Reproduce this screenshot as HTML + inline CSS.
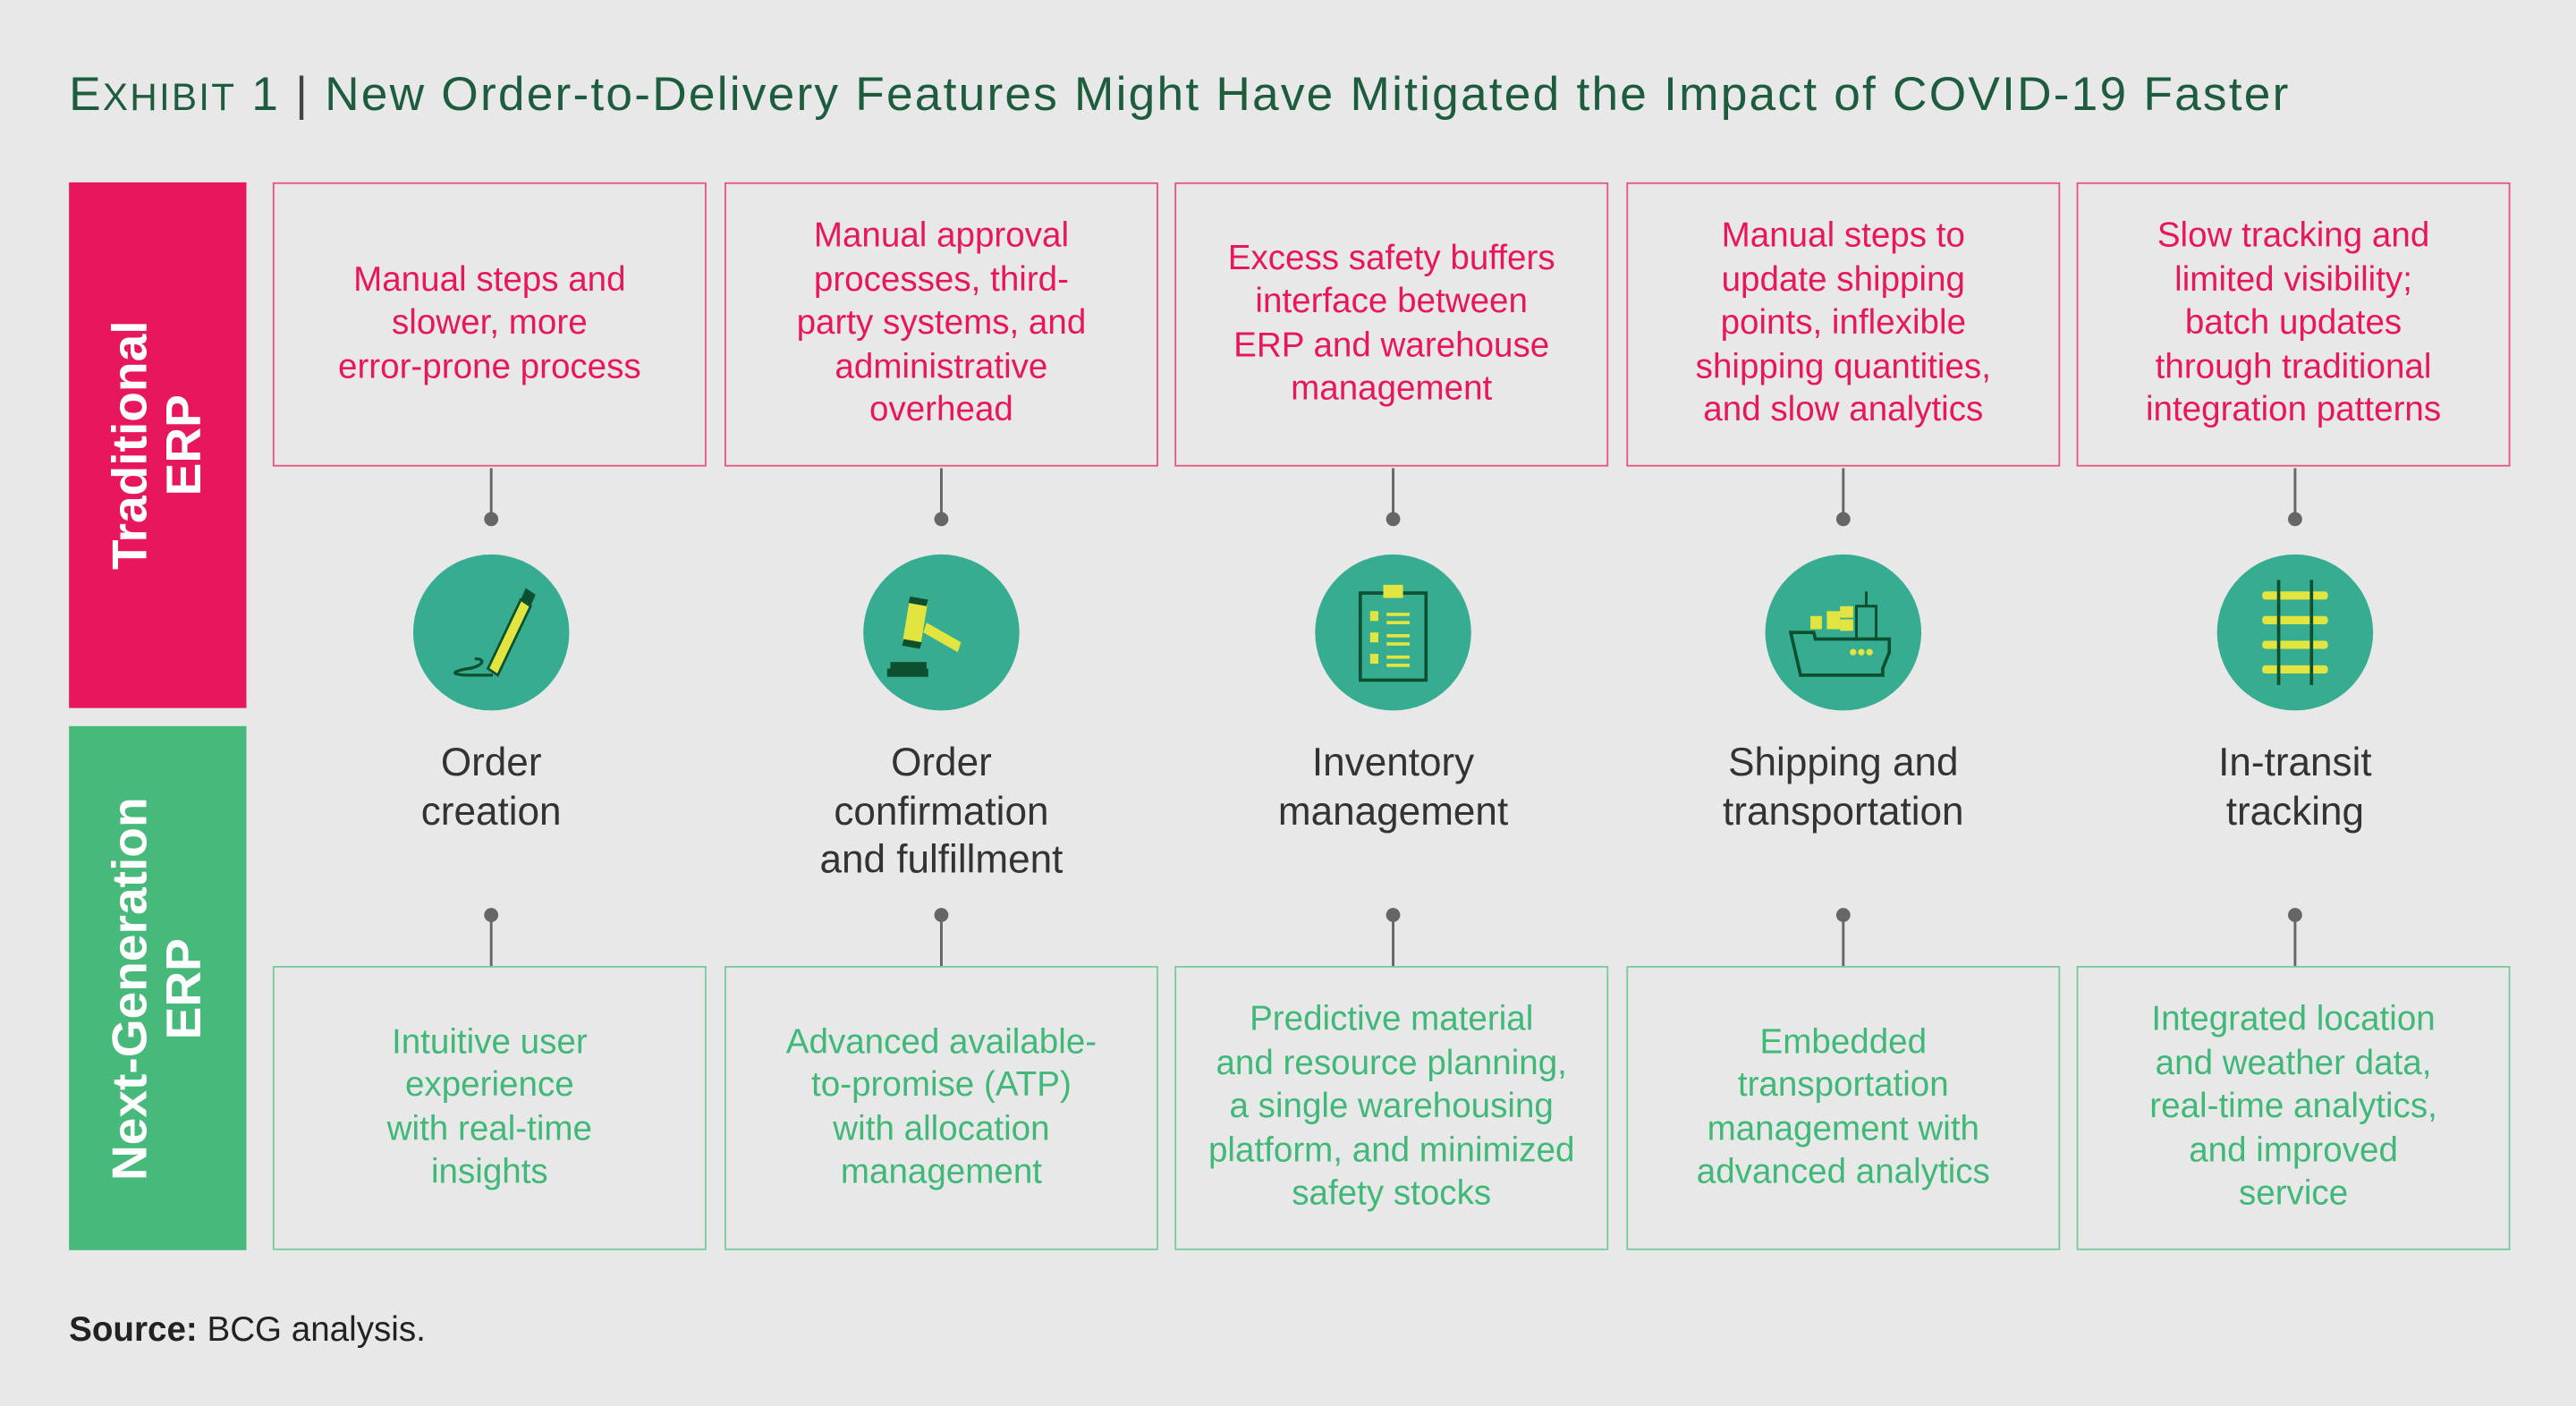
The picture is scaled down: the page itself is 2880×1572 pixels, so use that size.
<!DOCTYPE html>
<html><head><meta charset="utf-8"><style>
html,body{margin:0;padding:0;background:#e8e8e8;}
body{width:2880px;height:1572px;overflow:hidden;}
#w{width:1568px;height:856px;position:relative;transform:scale(1.83673);transform-origin:0 0;font-family:"Liberation Sans",sans-serif;}
.a{position:absolute;}
.title{left:42px;top:42px;font-size:29px;color:#1d5c3c;white-space:nowrap;letter-spacing:1.2px;}
.title small{font-size:23px;}
.bar{left:42px;width:108px;color:#fff;font-weight:bold;font-size:30px;}
.bar div{position:absolute;left:50%;top:50%;transform:translate(-50%,-50%) rotate(-90deg);text-align:center;line-height:33px;white-space:nowrap;}
.box{width:264px;height:173px;display:flex;align-items:center;justify-content:center;text-align:center;font-size:21px;line-height:26.5px;box-sizing:border-box;padding:0 4px;}
.t{top:111px;border:1.5px solid #e8557f;color:#e8175d;}
.b{top:588px;border:1.5px solid #7cc9a0;color:#3fb878;}
.lab{width:280px;text-align:center;font-size:24px;line-height:29.5px;color:#333;top:450px;}
</style></head><body><div id="w">
<div class="a title">E<small>XHIBIT</small> 1 <span style="color:#444">|</span> New Order-to-Delivery Features Might Have Mitigated the Impact of COVID-19 Faster</div>
<div class="a bar" style="top:111px;height:320px;background:#e8175d"><div>Traditional<br>ERP</div></div>
<div class="a bar" style="top:442px;height:319px;background:#47b97a"><div>Next-Generation<br>ERP</div></div>

<div class="a box t" style="left:166px">Manual steps and<br>slower, more<br>error-prone process</div>
<div class="a box t" style="left:441px">Manual approval<br>processes, third-<br>party systems, and<br>administrative<br>overhead</div>
<div class="a box t" style="left:715px">Excess safety buffers<br>interface between<br>ERP and warehouse<br>management</div>
<div class="a box t" style="left:990px">Manual steps to<br>update shipping<br>points, inflexible<br>shipping quantities,<br>and slow analytics</div>
<div class="a box t" style="left:1264px">Slow tracking and<br>limited visibility;<br>batch updates<br>through traditional<br>integration patterns</div>

<div class="a box b" style="left:166px">Intuitive user<br>experience<br>with real-time<br>insights</div>
<div class="a box b" style="left:441px">Advanced available-<br>to-promise (ATP)<br>with allocation<br>management</div>
<div class="a box b" style="left:715px">Predictive material<br>and resource planning,<br>a single warehousing<br>platform, and minimized<br>safety stocks</div>
<div class="a box b" style="left:990px">Embedded<br>transportation<br>management with<br>advanced analytics</div>
<div class="a box b" style="left:1264px">Integrated location<br>and weather data,<br>real-time analytics,<br>and improved<br>service</div>

<svg class="a" style="left:0;top:0" width="1568" height="856">
<g fill="#666" stroke="#666" stroke-width="1.6">
<line x1="299" y1="285" x2="299" y2="316"/><circle cx="299" cy="316" r="3.5"/>
<line x1="573" y1="285" x2="573" y2="316"/><circle cx="573" cy="316" r="3.5"/>
<line x1="848" y1="285" x2="848" y2="316"/><circle cx="848" cy="316" r="3.5"/>
<line x1="1122" y1="285" x2="1122" y2="316"/><circle cx="1122" cy="316" r="3.5"/>
<line x1="1397" y1="285" x2="1397" y2="316"/><circle cx="1397" cy="316" r="3.5"/>
<line x1="299" y1="557" x2="299" y2="588"/><circle cx="299" cy="557" r="3.5"/>
<line x1="573" y1="557" x2="573" y2="588"/><circle cx="573" cy="557" r="3.5"/>
<line x1="848" y1="557" x2="848" y2="588"/><circle cx="848" cy="557" r="3.5"/>
<line x1="1122" y1="557" x2="1122" y2="588"/><circle cx="1122" cy="557" r="3.5"/>
<line x1="1397" y1="557" x2="1397" y2="588"/><circle cx="1397" cy="557" r="3.5"/>
</g>
<g fill="#36ad91">
<circle cx="299" cy="385" r="47.5"/><circle cx="573" cy="385" r="47.5"/><circle cx="848" cy="385" r="47.5"/><circle cx="1122" cy="385" r="47.5"/><circle cx="1397" cy="385" r="47.5"/>
</g>
<g transform="translate(299,385)">
<path d="M-2 22 L18 -20 L24 -16 L4 26 Z" fill="#e2e53f" stroke="#0d5030" stroke-width="1.5"/>
<path d="M18 -20 L21 -27 L27 -23 L24 -16 Z" fill="#0d5030"/>
<path d="M-10 16 c8 0 4 5 -4 6 c-12 2 -10 4 2 4 l13 0" fill="none" stroke="#0d5030" stroke-width="1.8"/>
</g>
<g transform="translate(573,385)">
<path d="M-19 -22 L-8 -20 L-13 10 L-24 8 Z" fill="#e2e53f"/>
<path d="M-19 -22 L-8 -20 L-9 -16 L-20 -18 Z M-13 10 L-24 8 L-23 4 L-12 6 Z" fill="#0d5030"/>
<path d="M-9 -6 L12 6 L10 12 L-11 0 Z" fill="#e2e53f"/>
<rect x="-31" y="18" width="22" height="5" fill="#0d5030"/><rect x="-33" y="22" width="25" height="5" fill="#0d5030"/>
</g>
<g transform="translate(848,385)">
<rect x="-20" y="-24" width="40" height="53" fill="none" stroke="#0d5030" stroke-width="2"/>
<rect x="-6" y="-29" width="12" height="8" fill="#e2e53f"/>
<g fill="#e2e53f"><rect x="-14" y="-13" width="5" height="6"/><rect x="-14" y="0" width="5" height="6"/><rect x="-14" y="13" width="5" height="6"/>
<rect x="-4" y="-12" width="14" height="2"/><rect x="-4" y="-7" width="14" height="2"/><rect x="-4" y="1" width="14" height="2"/><rect x="-4" y="6" width="14" height="2"/><rect x="-4" y="14" width="14" height="2"/><rect x="-4" y="19" width="14" height="2"/></g>
</g>
<g transform="translate(1122,385)">
<g fill="#e2e53f"><rect x="-20" y="-10" width="7" height="8"/><rect x="-10" y="-13" width="8" height="11"/><rect x="-2" y="-16" width="8" height="7"/><rect x="-2" y="-8" width="8" height="7"/></g>
<path d="M-32 0 L-18 0 L-17 4 L28 4 L28 12 L24 22 L24 26 L-26 26 Z" fill="none" stroke="#0d5030" stroke-width="2"/>
<path d="M8 4 L8 -16 L20 -16 L20 4 M14 -16 L14 -25" fill="none" stroke="#0d5030" stroke-width="1.6"/>
<g fill="#e2e53f"><circle cx="6" cy="12" r="2"/><circle cx="11" cy="12" r="2"/><circle cx="16" cy="12" r="2"/></g>
</g>
<g transform="translate(1397,385)">
<g fill="#e2e53f"><rect x="-20" y="-25" width="40" height="5" rx="2"/><rect x="-20" y="-10" width="40" height="5" rx="2"/><rect x="-20" y="5" width="40" height="5" rx="2"/><rect x="-20" y="20" width="40" height="5" rx="2"/></g>
<g stroke="#0d5030" stroke-width="2"><line x1="-10" y1="-32" x2="-10" y2="32"/><line x1="10" y1="-32" x2="10" y2="32"/></g>
</g>
</svg>

<div class="a lab" style="left:159px">Order<br>creation</div>
<div class="a lab" style="left:433px">Order<br>confirmation<br>and fulfillment</div>
<div class="a lab" style="left:708px">Inventory<br>management</div>
<div class="a lab" style="left:982px">Shipping and<br>transportation</div>
<div class="a lab" style="left:1257px">In-transit<br>tracking</div>

<div class="a" style="left:42px;top:798px;font-size:21px;color:#222"><b>Source:</b> BCG analysis.</div>
</div></body></html>
